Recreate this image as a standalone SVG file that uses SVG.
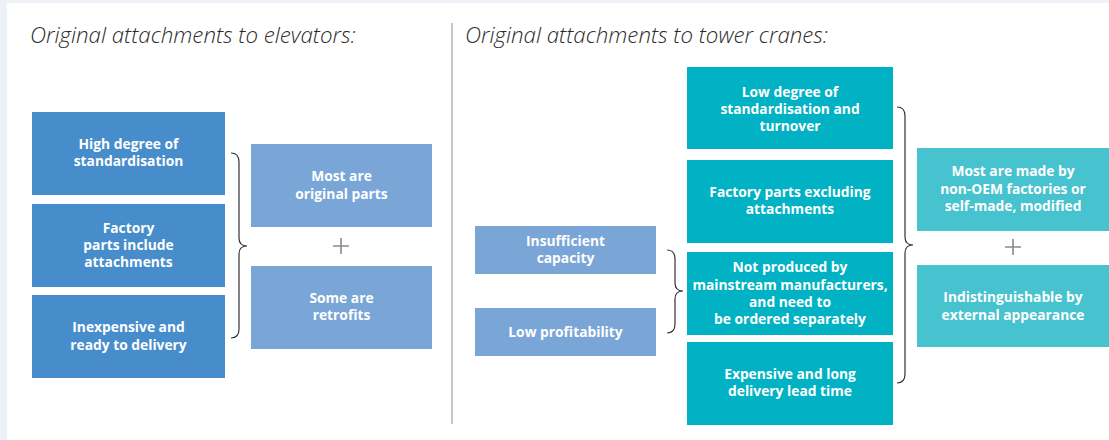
<svg xmlns="http://www.w3.org/2000/svg" width="1109" height="440" viewBox="0 0 1109 440">
<style>
.title{font-family:"Open Sans","Noto Sans",sans-serif;font-style:italic;font-weight:300;font-size:22.3px;fill:#2b2b2b}
.t{font-family:"Open Sans","Noto Sans",sans-serif;font-weight:700;font-size:13.8px;fill:#ffffff;text-anchor:middle}
.db{fill:#478dcb}
.lb{fill:#7aa6d7}
.tl{fill:#00b2c3}
.lt{fill:#47c2cf}
.brace{fill:none;stroke:#333333;stroke-width:1.2}
.plus{stroke:#8a8a8a;stroke-width:1.6}
</style>
<rect x="0" y="0" width="1109" height="440" fill="#eef1f8"/>
<rect x="7" y="3" width="1102" height="437" fill="#ffffff"/>
<line x1="452" y1="23" x2="452" y2="424" stroke="#c8c8c8" stroke-width="2"/>
<text class="title" x="30" y="43">Original attachments to elevators:</text>
<text class="title" x="465" y="43">Original attachments to tower cranes:</text>

<g id="e1"><rect class="db" x="32" y="112" width="193" height="83"/>
<text class="t" x="128.5" y="149">High degree of</text><text class="t" x="128.5" y="166">standardisation</text></g>
<g id="e2"><rect class="db" x="32" y="204" width="193" height="83"/>
<text class="t" x="128.5" y="233">Factory</text><text class="t" x="128.5" y="250">parts include</text><text class="t" x="128.5" y="267">attachments</text></g>
<g id="e3"><rect class="db" x="32" y="295" width="193" height="83"/>
<text class="t" x="128.5" y="332">Inexpensive and</text><text class="t" x="128.5" y="350">ready to delivery</text></g>
<g id="e4"><rect class="lb" x="251" y="144" width="181" height="83"/>
<text class="t" x="341.5" y="181">Most are</text><text class="t" x="341.5" y="199">original parts</text></g>
<g id="e5"><rect class="lb" x="251" y="266" width="181" height="83"/>
<text class="t" x="341.5" y="303">Some are</text><text class="t" x="341.5" y="320">retrofits</text></g>

<g id="c1"><rect class="tl" x="687" y="67" width="206" height="82"/>
<text class="t" x="790" y="97">Low degree of</text><text class="t" x="790" y="114">standardisation and</text><text class="t" x="790" y="131">turnover</text></g>
<g id="c2"><rect class="tl" x="687" y="160" width="206" height="83"/>
<text class="t" x="790" y="197">Factory parts excluding</text><text class="t" x="790" y="214">attachments</text></g>
<g id="c3"><rect class="tl" x="687" y="252" width="206" height="83"/>
<text class="t" x="790" y="272">Not produced by</text><text class="t" x="790" y="290">mainstream manufacturers,</text><text class="t" x="790" y="307">and need to</text><text class="t" x="790" y="324">be ordered separately</text></g>
<g id="c4"><rect class="tl" x="687" y="342" width="206" height="83"/>
<text class="t" x="790" y="379">Expensive and long</text><text class="t" x="790" y="396">delivery lead time</text></g>
<g id="c5"><rect class="lb" x="475" y="226" width="181" height="48"/>
<text class="t" x="565.5" y="246">Insufficient</text><text class="t" x="565.5" y="263">capacity</text></g>
<g id="c6"><rect class="lb" x="475" y="308" width="181" height="48"/>
<text class="t" x="565.5" y="337">Low profitability</text></g>
<g id="c7"><rect class="lt" x="917" y="148" width="192" height="83"/>
<text class="t" x="1013" y="176">Most are made by</text><text class="t" x="1013" y="194">non-OEM factories or</text><text class="t" x="1013" y="211">self-made, modified</text></g>
<g id="c8"><rect class="lt" x="917" y="265" width="192" height="82"/>
<text class="t" x="1013" y="302">Indistinguishable by</text><text class="t" x="1013" y="320">external appearance</text></g>

<g id="connectors">
<path class="brace" d="M231,153 Q239,153 239,162 L239,238 Q239,246 247,246 Q239,246 239,254 L239,329 Q239,338 231,338"/>
<path class="brace" d="M667,250 Q675,250 675,259 L675,283 Q675,291 683,291 Q675,291 675,299 L675,324 Q675,333 667,333"/>
<path class="brace" d="M897,107 Q905,107 905,116 L905,237 Q905,245 913,245 Q905,245 905,253 L905,374 Q905,383 897,383"/>
<path class="plus" d="M333,246 H349 M341,238 V254"/>
<path class="plus" d="M1005,247 H1021 M1013,239 V255"/>
</g>
</svg>
